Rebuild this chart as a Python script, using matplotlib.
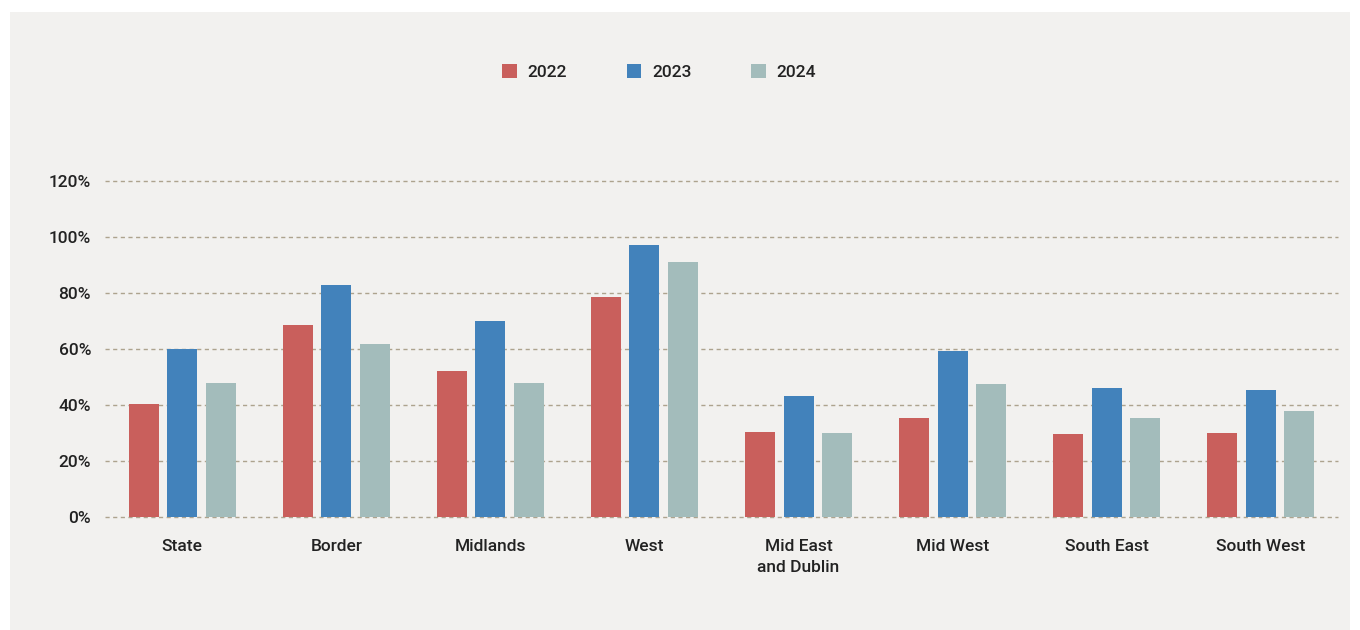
import matplotlib
matplotlib.use('Agg')
import matplotlib.pyplot as plt
from matplotlib.patches import Patch, Rectangle
import numpy as np

# Regions and yearly shares (%)
regions = ['State', 'Border', 'Midlands', 'West', 'Mid East\nand Dublin',
           'Mid West', 'South East', 'South West']
years = ['2022', '2023', '2024']
share_2022 = [40.5, 68.4, 52.1, 78.7, 30.4, 35.4, 29.6, 30.0]
share_2023 = [60.1, 82.9, 70.0, 97.3, 43.2, 59.3, 46.1, 45.4]
share_2024 = [47.9, 61.8, 48.0, 90.9, 30.0, 47.5, 35.4, 37.9]
y_ticks = [0, 20, 40, 60, 80, 100, 120]

colors = ['#c95f5c', '#4282bb', '#a3bcbb']
panel_bg = '#f2f1ef'
grid_col = '#ada38e'
text_col = '#222222'

plt.rcParams['font.family'] = ['Roboto', 'DejaVu Sans']
plt.rcParams['font.weight'] = 'medium'

fig = plt.figure(figsize=(13.6, 6.3), dpi=100)
fig.patch.set_facecolor('white')
# light grey panel behind the chart
fig.patches.append(Rectangle((10 / 1360, 0), 1340 / 1360, 618 / 630,
                             transform=fig.transFigure, facecolor=panel_bg,
                             edgecolor='none', zorder=-10))

ax = fig.add_axes([105 / 1360, 1 - 517 / 630, 1233 / 1360, 336 / 630])
ax.set_facecolor('none')
ax.set_zorder(2)

x = np.arange(len(regions))
width = 0.195
offset = 0.25
for i, (vals, col) in enumerate(zip([share_2022, share_2023, share_2024], colors)):
    ax.bar(x + (i - 1) * offset, vals, width, color=col, zorder=3)

for t in y_ticks:
    ax.axhline(t, color=grid_col, linestyle=(0, (3, 2.5)), linewidth=1,
               clip_on=False, zorder=1)

ax.set_xlim(-0.5, 7.5)
ax.set_ylim(0, 120)
ax.set_yticks(y_ticks, [f'{t}%' for t in y_ticks])
ax.set_xticks(x, regions)
ax.tick_params(axis='both', length=0, labelsize=12.5, colors=text_col)
ax.tick_params(axis='x', pad=16)
ax.tick_params(axis='y', pad=10)
for lbl in ax.get_xticklabels():
    lbl.set_linespacing(1.45)
for s in ax.spines.values():
    s.set_visible(False)

handles = [Patch(facecolor=c, edgecolor='none', label=y) for c, y in zip(colors, years)]
leg = fig.legend(handles=handles, loc='center', bbox_to_anchor=(659 / 1360, 1 - 72 / 630),
                 ncol=3, frameon=False, fontsize=12.5, handlelength=0.85, handleheight=0.85,
                 handletextpad=0.6, columnspacing=3.45, labelcolor=text_col)
leg.set_zorder(3)

fig.savefig('out.png', dpi=100, facecolor=fig.get_facecolor())
